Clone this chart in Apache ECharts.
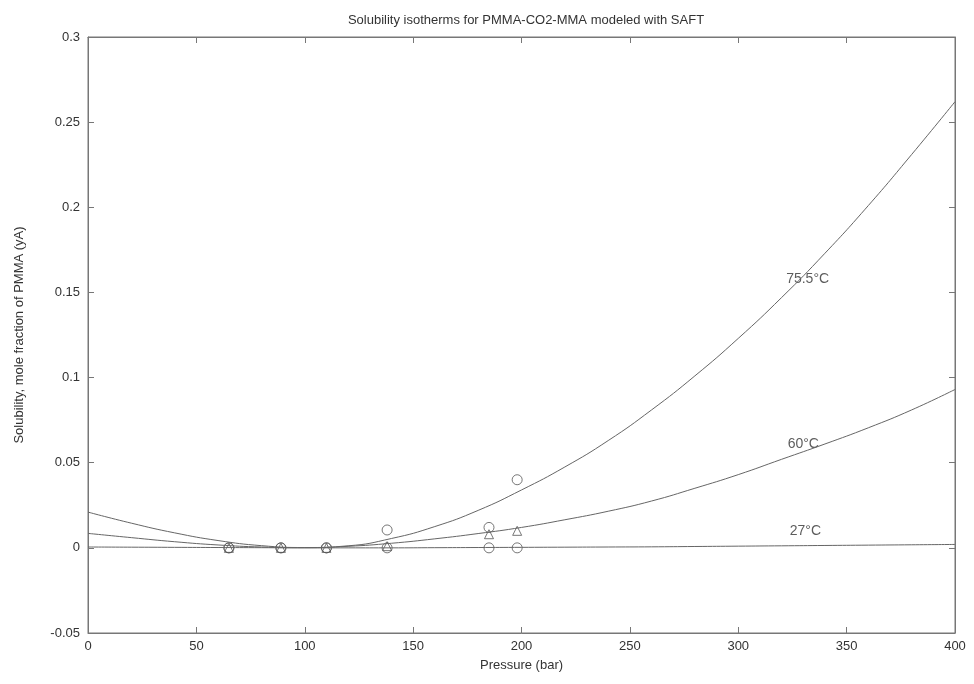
<!DOCTYPE html>
<html><head><meta charset="utf-8">
<script src="https://cdn.jsdelivr.net/npm/echarts@6/dist/echarts.min.js"></script>
<style>html,body{margin:0;padding:0;background:#fff}#c{width:974px;height:684px}</style>
</head><body><div id="c"></div>
<script>
const pressureGrid = [0,20,40,60,80,100,120,140,160,180,200,220,240,260,280,300,320,340,360,380,400];
const curve755 = [0.021,0.0145,0.0088,0.0043,0.0013,0.0002,0.0012,0.0055,0.0125,0.022,0.034,0.0475,0.063,0.081,0.101,0.123,0.147,0.173,0.201,0.231,0.262];
const curve60  = [0.0085,0.006,0.0036,0.0017,0.0005,0.0001,0.0009,0.0027,0.0053,0.0084,0.012,0.0165,0.0215,0.0275,0.035,0.043,0.052,0.061,0.0705,0.081,0.093];
const curve27  = [0.0005,0.0004,0.0003,0.0002,0.0001,0,0,0,0.0001,0.0002,0.0003,0.0004,0.0005,0.0006,0.0008,0.001,0.0012,0.0014,0.0016,0.0018,0.002];
const expCircleHigh = [[65,0],[89,0],[110,0],[138,0.0105],[185,0.012],[198,0.040]];
const expTriangle = [[65,0],[89,0],[110,0],[138,0.001],[185,0.008],[198,0.010]];
const expCircleLow = [[65,0],[89,0],[110,0],[138,0],[185,0],[198,0]];
const curveLabels = [[332,0.158,'75.5°C'],[330,0.061,'60°C'],[331,0.010,'27°C']];
const xTicks = [0,50,100,150,200,250,300,350,400];
const yTicks = [-0.05,0,0.05,0.1,0.15,0.2,0.25,0.3];

const lineCol = '#666';
const axisCol = '#777';
const txt = '#333';
const ff = 'Liberation Sans, Arial, sans-serif';
const pair = arr => pressureGrid.map((x,i)=>[x,arr[i]]);
const fmtY = v => { const r = Math.round(v*100)/100; return String(Math.abs(r)<1e-9?0:r); };

const chart = echarts.init(document.getElementById('c'));
const axisCommon = () => ({
  type:'value', splitLine:{show:false},
  axisLine:{show:true,onZero:false,lineStyle:{color:axisCol,width:1}},
  axisTick:{show:true,inside:true,length:6,lineStyle:{color:axisCol}}
});
chart.setOption({
  animation:false,
  backgroundColor:'#fff',
  title:{text:'Solubility isotherms for PMMA-CO2-MMA modeled with SAFT',left:521,textAlign:'center',top:9,
    textStyle:{fontFamily:ff,fontSize:13,fontWeight:'normal',color:txt}},
  grid:{left:88,right:19,top:37,bottom:51,show:true,borderColor:axisCol,borderWidth:1},
  xAxis:[
    Object.assign(axisCommon(),{min:0,max:400,interval:50,position:'bottom',
      name:'Pressure (bar)',nameLocation:'middle',nameGap:26,
      nameTextStyle:{fontFamily:ff,fontSize:13,color:txt},
      axisLabel:{fontFamily:ff,fontSize:13,color:txt,margin:7}}),
    Object.assign(axisCommon(),{min:0,max:400,interval:50,position:'top',axisLabel:{show:false}})
  ],
  yAxis:[
    Object.assign(axisCommon(),{min:-0.05,max:0.3,interval:0.05,position:'left',
      name:'Solubility, mole fraction of PMMA (yA)',nameLocation:'middle',nameGap:62,
      nameTextStyle:{fontFamily:ff,fontSize:13,color:txt},
      axisLabel:{fontFamily:ff,fontSize:13,color:txt,margin:8,formatter:fmtY}}),
    Object.assign(axisCommon(),{min:-0.05,max:0.3,interval:0.05,position:'right',axisLabel:{show:false}})
  ],
  series:[
    {type:'line',data:pair(curve755),smooth:true,showSymbol:false,lineStyle:{color:lineCol,width:1}},
    {type:'line',data:pair(curve60),smooth:true,showSymbol:false,lineStyle:{color:lineCol,width:1}},
    {type:'line',data:pair(curve27),smooth:true,showSymbol:false,lineStyle:{color:lineCol,width:1}},
    {type:'scatter',data:expCircleHigh,symbol:'circle',symbolSize:10,
      itemStyle:{color:'rgba(0,0,0,0)',borderColor:'#555',borderWidth:1}},
    {type:'scatter',data:expTriangle,symbol:'triangle',symbolSize:9,
      itemStyle:{color:'rgba(0,0,0,0)',borderColor:'#555',borderWidth:1}},
    {type:'scatter',data:expCircleLow,symbol:'circle',symbolSize:10,
      itemStyle:{color:'rgba(0,0,0,0)',borderColor:'#555',borderWidth:1}},
    {type:'scatter',data:curveLabels.map(d=>({value:[d[0],d[1]],name:d[2]})),symbolSize:0,
      label:{show:true,position:'inside',formatter:p=>p.name,fontFamily:ff,fontSize:14,color:txt}}
  ]
});
</script></body></html>
